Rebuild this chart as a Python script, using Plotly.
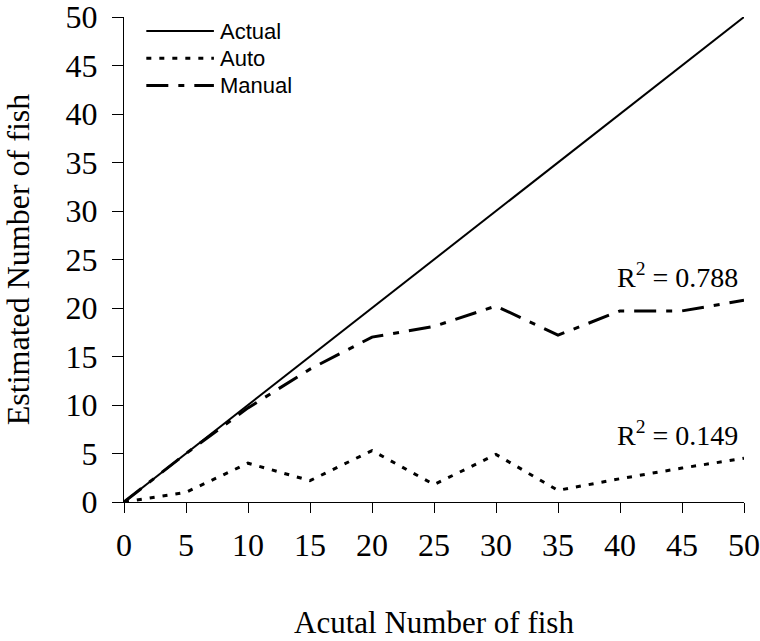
import plotly.graph_objects as go

x_vals = [0, 5, 10, 15, 20, 25, 30, 35, 40, 45, 50]
actual = [0, 5, 10, 15, 20, 25, 30, 35, 40, 45, 50]
auto = [0, 1, 4, 2.2, 5.3, 1.8, 4.9, 1.2, 2.4, 3.5, 4.5]
manual = [0, 5, 9.7, 13.7, 17, 18.1, 20.2, 17.2, 19.7, 19.7, 20.8]
tick_vals = [0, 5, 10, 15, 20, 25, 30, 35, 40, 45, 50]
series_names = ["Actual", "Auto", "Manual"]
r2_manual = "R<sup>2</sup> = 0.788"
r2_auto = "R<sup>2</sup> = 0.149"

serif = "Liberation Serif, Times New Roman, serif"
sans = "Liberation Sans, Arial, sans-serif"

styles = [
    dict(color="black", width=2, dash="solid"),
    dict(color="black", width=3, dash="5px,8px"),
    dict(color="black", width=3, dash="22px,10px,6px,10px"),
]

fig = go.Figure()
for name, ys, st in zip(series_names, [actual, auto, manual], styles):
    fig.add_trace(go.Scatter(x=x_vals, y=ys, mode="lines", name=name,
                             line=st, showlegend=False, hoverinfo="skip"))

# R^2 labels
fig.add_annotation(x=50, y=manual[-1], xref="x", yref="y", text=r2_manual,
                   showarrow=False, xanchor="right", yanchor="bottom",
                   xshift=-4, yshift=5,
                   font=dict(family=serif, size=28, color="black"))
fig.add_annotation(x=50, y=auto[-1], xref="x", yref="y", text=r2_auto,
                   showarrow=False, xanchor="right", yanchor="bottom",
                   xshift=-4, yshift=5,
                   font=dict(family=serif, size=28, color="black"))

# legend (line samples + labels inside the plot area)
leg_rows = [0.971, 0.915, 0.859]
for name, st, yy in zip(series_names, styles, leg_rows):
    fig.add_shape(type="line", xref="paper", yref="paper",
                  x0=0.036, x1=0.145, y0=yy, y1=yy, line=st)
    fig.add_annotation(x=0.154, y=yy, xref="paper", yref="paper", text=name,
                       showarrow=False, xanchor="left", yanchor="middle",
                       borderpad=0,
                       font=dict(family=sans, size=22, color="black"))

fig.update_layout(
    width=760, height=641,
    margin=dict(l=124, r=16, t=17, b=139),
    paper_bgcolor="white", plot_bgcolor="white",
    showlegend=False,
)
fig.update_xaxes(range=[0, 50], tickvals=tick_vals, showgrid=False, zeroline=False,
                 showline=True, linecolor="black", linewidth=1,
                 ticks="outside", ticklen=10, tickcolor="black",
                 ticklabelstandoff=5, automargin=False, ticklabeloverflow="allow",
                 tickfont=dict(family=serif, size=32, color="black"),
                 title=dict(text="Acutal Number of fish", standoff=48,
                            font=dict(family=serif, size=31, color="black")))
fig.update_yaxes(range=[0, 50], tickvals=tick_vals, showgrid=False, zeroline=False,
                 showline=True, linecolor="black", linewidth=1,
                 ticks="outside", ticklen=11, tickcolor="black",
                 ticklabelstandoff=8, automargin=False, ticklabeloverflow="allow",
                 tickfont=dict(family=serif, size=32, color="black"),
                 title=dict(text="Estimated Number of fish", standoff=27,
                            font=dict(family=serif, size=32, color="black")))

fig.write_html("out.html", config={"displayModeBar": False},
               post_script="document.body.style.margin='0';")
